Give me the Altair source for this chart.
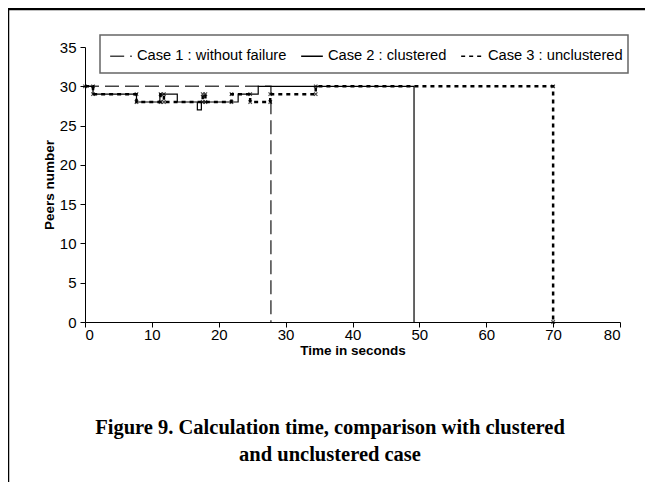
import altair as alt
import pandas as pd

# ---- data ----
series_names = ["Case 1 : without failure", "Case 2 : clustered", "Case 3 : unclustered"]

case1_t = [0, 27.8, 27.8]
case1_y = [30, 30, 0]

case2_t = [0, 1.2, 7.7, 11.2, 13.8, 16.8, 17.4, 22.9, 25.9, 49.2]
case2_y = [30, 29, 28, 29, 28, 27, 28, 29, 30, 0]

case3_t = [0, 1.2, 7.7, 11.3, 11.8, 17.6, 18.0, 21.9, 24.7, 27.7, 34.5, 70.0]
case3_y = [30, 29, 28, 29, 28, 29, 28, 29, 28, 29, 30, 0]

x_ticks = [0, 10, 20, 30, 40, 50, 60, 70, 80]
y_ticks = [0, 5, 10, 15, 20, 25, 30, 35]

caption_lines = ["Figure 9. Calculation time, comparison with clustered",
                 "and unclustered case"]

# ---- tables ----
rows = []
for name, ts, ys in zip(series_names, [case1_t, case2_t, case3_t], [case1_y, case2_y, case3_y]):
    for i, (t, y) in enumerate(zip(ts, ys)):
        rows.append({"series": name, "t": t, "y": y, "order": i})
df = pd.DataFrame(rows)

mk = []
prev = None
for t, y in zip(case3_t, case3_y):
    if prev is not None:
        mk.append({"t": t, "y": prev})
    mk.append({"t": t, "y": y})
    prev = y
mk_df = pd.DataFrame(mk)

W, H = 535, 275
FONT = "Liberation Sans"

x_enc = alt.X("t:Q", scale=alt.Scale(domain=[0, 80], nice=False),
              axis=alt.Axis(values=x_ticks, title="Time in seconds",
                            labelFont=FONT, titleFont=FONT))
y_enc = alt.Y("y:Q", scale=alt.Scale(domain=[0, 35], nice=False),
              axis=alt.Axis(values=y_ticks, title="Peers number", labelOverlap=False,
                            labelFont=FONT, titleFont=FONT))

legend = alt.Legend(title=None, orient="none", legendX=24, legendY=-3,
                    direction="horizontal", columns=3,
                    symbolType="stroke", symbolSize=470, symbolStrokeWidth=1.5,
                    labelFont=FONT, labelFontSize=14.7, labelColor="black",
                    labelLimit=400, columnPadding=11, labelOffset=4,
                    padding=0)

color_enc = alt.Color("series:N",
                      scale=alt.Scale(domain=series_names, range=["#444444", "#000000", "#000000"]),
                      legend=legend)
dash_enc = alt.StrokeDash("series:N",
                          scale=alt.Scale(domain=series_names, range=[[14, 6], [1, 0], [4, 4]]),
                          legend=legend)

one = pd.DataFrame({"k": [0]})
legend_box = alt.Chart(one).mark_rect(fill="white", stroke="#666666", strokeWidth=1.5).encode(
    x=alt.value(15), x2=alt.value(543), y=alt.value(-12), y2=alt.value(26))

widths = [1.5, 1.2, 2.5]
line_layers = []
for name, w in zip(series_names, widths):
    line_layers.append(
        alt.Chart(df[df["series"] == name]).mark_line(interpolate="step-after", strokeWidth=w).encode(
            x=x_enc, y=y_enc, order="order:Q", color=color_enc, strokeDash=dash_enc)
    )

markers = alt.Chart(mk_df).mark_point(
    shape="M-1,-1L1,1M-1,1L1,-1", filled=False, color="black", size=12, strokeWidth=1.2
).encode(x=x_enc, y=y_enc)

frame_top = alt.Chart(one).mark_rule(color="black", strokeWidth=2.5).encode(
    x=alt.value(-78), x2=alt.value(560), y=alt.value(-38))
frame_left = alt.Chart(one).mark_rule(color="black", strokeWidth=2.5).encode(
    x=alt.value(-77), y=alt.value(-39), y2=alt.value(440))

cap_df = pd.DataFrame({"line": caption_lines, "row": [0, 1]})
cap1 = alt.Chart(cap_df.iloc[[0]]).mark_text(
    font="Liberation Serif", fontSize=20.5, fontWeight="bold", color="black",
    align="center", baseline="middle").encode(
    text="line:N", x=alt.value(245), y=alt.value(381))
cap2 = alt.Chart(cap_df.iloc[[1]]).mark_text(
    font="Liberation Serif", fontSize=20.5, fontWeight="bold", color="black",
    align="center", baseline="middle").encode(
    text="line:N", x=alt.value(245), y=alt.value(408))

chart = alt.layer(legend_box, *line_layers, markers, frame_top, frame_left, cap1, cap2).properties(
    width=W, height=H,
    autosize=alt.AutoSizeParams(type="none"),
    padding={"left": 77, "top": 39, "right": 31, "bottom": 160},
).configure(font=FONT).configure_view(stroke=None).configure_axis(
    labelFont=FONT, labelFontSize=15, labelColor="black",
    titleFont=FONT, titleFontSize=13.5, titleFontWeight="bold", titleColor="black",
    domainColor="black", tickColor="black", grid=False, tickSize=5,
).configure_axisX(labelPadding=0, titlePadding=1).configure_axisY(titlePadding=3, labelPadding=4)

chart.save("out.html", embed_options={"renderer": "svg", "actions": False})
